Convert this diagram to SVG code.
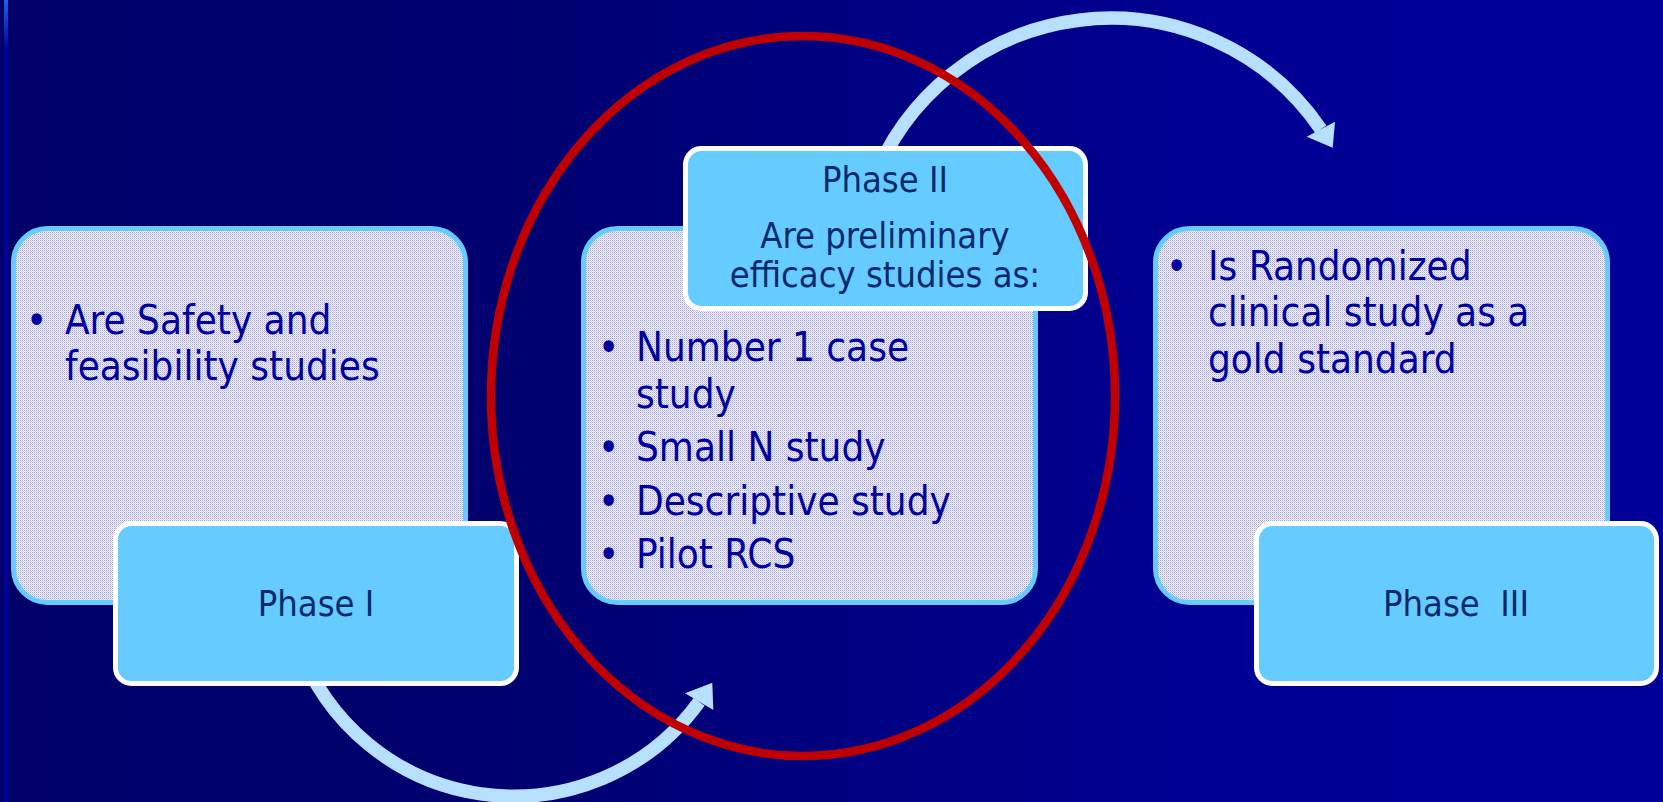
<svg xmlns="http://www.w3.org/2000/svg" width="1663" height="802" viewBox="0 0 1663 802">
<defs>
<linearGradient id="bg" x1="0" y1="0" x2="1" y2="0">
<stop offset="0" stop-color="#000068"/>
<stop offset="0.3" stop-color="#00006F"/>
<stop offset="0.75" stop-color="#000094"/>
<stop offset="1" stop-color="#000099"/>
</linearGradient>
<linearGradient id="strip" x1="0" y1="0" x2="0" y2="1">
<stop offset="0" stop-color="#1E64E0"/>
<stop offset="1" stop-color="#00009E"/>
</linearGradient>
<pattern id="dots" width="2" height="2" patternUnits="userSpaceOnUse">
<rect width="2" height="2" fill="#F4F4FC"/>
<rect width="1" height="1" fill="#A4A4D6"/>
<rect x="1" y="1" width="1" height="1" fill="#CACAEA"/>
</pattern>
<marker id="unused" markerWidth="1" markerHeight="1"/>
</defs>
<style>
.body{fill:url(#dots);stroke:#66CCFF;stroke-width:5}
.label{fill:#66CCFF;stroke:#FFFFFF;stroke-width:5}
.btxt{font-family:"DejaVu Sans Condensed","DejaVu Sans","Liberation Sans",sans-serif;font-stretch:condensed;font-size:40px;fill:#000099}
.ltxt{font-family:"DejaVu Sans Condensed","DejaVu Sans","Liberation Sans",sans-serif;font-stretch:condensed;font-size:36px;fill:#06296B;text-anchor:middle;white-space:pre}
.arc{fill:none;stroke:#B7E0FF;stroke-width:13.5}
.head{fill:#B7E0FF}
</style>
<rect x="0" y="0" width="1663" height="802" fill="url(#bg)"/>
<rect x="4" y="0" width="4" height="802" fill="#00009E"/>
<rect x="4" y="0" width="4" height="50" fill="url(#strip)"/>

<g id="box-phase1">
<rect class="body" x="13.5" y="228.5" width="452" height="374" rx="34"/>
<text class="btxt" x="26" y="334">•</text>
<text class="btxt" x="65" y="334">Are Safety and</text>
<text class="btxt" x="65" y="380">feasibility studies</text>
</g>
<g id="box-phase2">
<rect class="body" x="583.5" y="228.5" width="452" height="374" rx="34"/>
<text class="btxt" x="598" y="361">•</text>
<text class="btxt" x="636" y="361">Number 1 case</text>
<text class="btxt" x="636" y="408">study</text>
<text class="btxt" x="598" y="461">•</text>
<text class="btxt" x="636" y="461">Small N study</text>
<text class="btxt" x="598" y="515">•</text>
<text class="btxt" x="636" y="515">Descriptive study</text>
<text class="btxt" x="598" y="568">•</text>
<text class="btxt" x="636" y="568">Pilot RCS</text>
</g>
<g id="box-phase3">
<rect class="body" x="1155.5" y="228.5" width="452" height="374" rx="34"/>
<text class="btxt" x="1166" y="280">•</text>
<text class="btxt" x="1208" y="280">Is Randomized</text>
<text class="btxt" x="1208" y="326">clinical study as a</text>
<text class="btxt" x="1208" y="373">gold standard</text>
</g>

<g id="connectors">
<path class="arc" d="M 297.8 643.3 A 229 229 0 0 0 699.2 701.7"/>
<polygon class="head" points="712.3,682.7 685,693.3 713.3,710"/>
<path class="arc" d="M 871.3 186.1 A 254.5 254.5 0 0 1 1320.8 129.2"/>
<polygon class="head" points="1332.7,147.7 1306.7,136.7 1335,121.7"/>
</g>

<g id="label-phase1">
<rect class="label" x="115.5" y="523.5" width="401" height="160" rx="16"/>
<text class="ltxt" x="316" y="616">Phase I</text>
</g>
<g id="label-phase2">
<rect class="label" x="685.5" y="148.5" width="400" height="160" rx="16"/>
<text class="ltxt" x="885" y="192">Phase II</text>
<text class="ltxt" x="885" y="248">Are preliminary</text>
<text class="ltxt" x="885" y="287">efficacy studies as:</text>
</g>
<g id="label-phase3">
<rect class="label" x="1256.5" y="523.5" width="400" height="160" rx="16"/>
<text class="ltxt" x="1456" y="616" xml:space="preserve">Phase  III</text>
</g>

<g id="highlight">
<ellipse cx="803" cy="396" rx="312" ry="360" fill="none" stroke="#C00000" stroke-width="8.5"/>
</g>
</svg>
